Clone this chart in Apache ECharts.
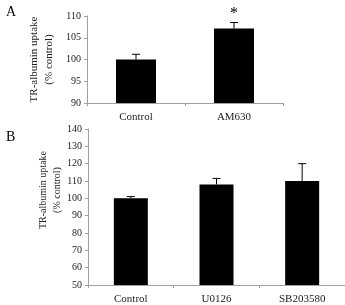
<!DOCTYPE html>
<html><head><meta charset="utf-8">
<script src="https://cdn.jsdelivr.net/npm/echarts@6/dist/echarts.min.js"></script>
<style>html,body{margin:0;padding:0;background:#fff}#c{width:345px;height:305px}</style>
</head><body><div id="c"></div>
<script>
var catsA = ['Control', 'AM630'];
var valsA = [100, 107.1];
var errA = [1.2, 1.4];
var sigA = ['', '*'];
var ticksA = {min: 90, max: 110, interval: 5};

var catsB = ['Control', 'U0126', 'SB203580'];
var valsB = [100, 108, 110];
var errB = [1, 3.5, 10];
var ticksB = {min: 50, max: 140, interval: 10};

var yName = 'TR-albumin uptake\n(% control)';
var font = 'Liberation Serif';
var axisGray = '#a0a0a0';
var txt = '#222';

function errSeries(cats, vals, errs, sig, idx) {
  return {
    type: 'custom', xAxisIndex: idx, yAxisIndex: idx, z: 5,
    data: cats.map(function (c, i) { return [i, vals[i], vals[i] + errs[i], sig ? sig[i] : '']; }),
    renderItem: function (params, api) {
      var base = api.coord([api.value(0), api.value(1)]);
      var top = api.coord([api.value(0), api.value(2)]);
      var cw = 4;
      var children = [
        {type: 'line', shape: {x1: base[0], y1: base[1], x2: top[0], y2: top[1]}, style: {stroke: '#000', lineWidth: 1}},
        {type: 'line', shape: {x1: top[0] - cw, y1: top[1], x2: top[0] + cw, y2: top[1]}, style: {stroke: '#000', lineWidth: 1}}
      ];
      var s = api.value(3);
      if (s) {
        children.push({type: 'text', x: top[0], y: top[1] - 1, style: {text: s, fill: '#000', font: '16px ' + font, align: 'center', verticalAlign: 'bottom'}});
      }
      return {type: 'group', children: children};
    }
  };
}

function yAxis(t, idx, gap, fs, lh, pad) {
  return {
    type: 'value', gridIndex: idx, min: t.min, max: t.max, interval: t.interval,
    name: yName, nameLocation: 'middle', nameRotate: 90, nameGap: gap, nameMoveOverlap: false,
    nameTextStyle: {fontFamily: font, fontSize: fs, color: txt, lineHeight: lh, padding: pad},
    axisLine: {show: true, lineStyle: {color: axisGray}},
    axisTick: {show: true, length: 3, lineStyle: {color: axisGray}},
    axisLabel: {fontFamily: font, fontSize: 10, color: txt, margin: 6},
    splitLine: {show: false}
  };
}
function xAxis(cats, idx) {
  return {
    type: 'category', gridIndex: idx, data: cats,
    axisLine: {lineStyle: {color: axisGray}},
    axisTick: {show: true, length: 3, lineStyle: {color: axisGray}},
    axisLabel: {fontFamily: font, fontSize: 11, color: txt, margin: 9}
  };
}

var chart = echarts.init(document.getElementById('c'));
chart.setOption({
  animation: false,
  title: [
    {text: 'A', left: 1, top: 0, textStyle: {fontFamily: font, fontSize: 14, fontWeight: 'normal', color: '#000'}},
    {text: 'B', left: 1, top: 125, textStyle: {fontFamily: font, fontSize: 14, fontWeight: 'normal', color: '#000'}}
  ],
  grid: [
    {left: 87, right: 62, top: 16, height: 87},
    {left: 88, right: 0, top: 129, height: 158}
  ],
  xAxis: [xAxis(catsA, 0), xAxis(catsB, 1)],
  yAxis: [yAxis(ticksA, 0, 30, 11, 15, 0), yAxis(ticksB, 1, 24, 10, 14, [0, 0, 0, 34])],
  series: [
    {type: 'bar', xAxisIndex: 0, yAxisIndex: 0, data: valsA, barWidth: 40, itemStyle: {color: '#000'}},
    errSeries(catsA, valsA, errA, sigA, 0),
    {type: 'bar', xAxisIndex: 1, yAxisIndex: 1, data: valsB, barWidth: 34, itemStyle: {color: '#000'}},
    errSeries(catsB, valsB, errB, null, 1)
  ]
});
</script></body></html>
